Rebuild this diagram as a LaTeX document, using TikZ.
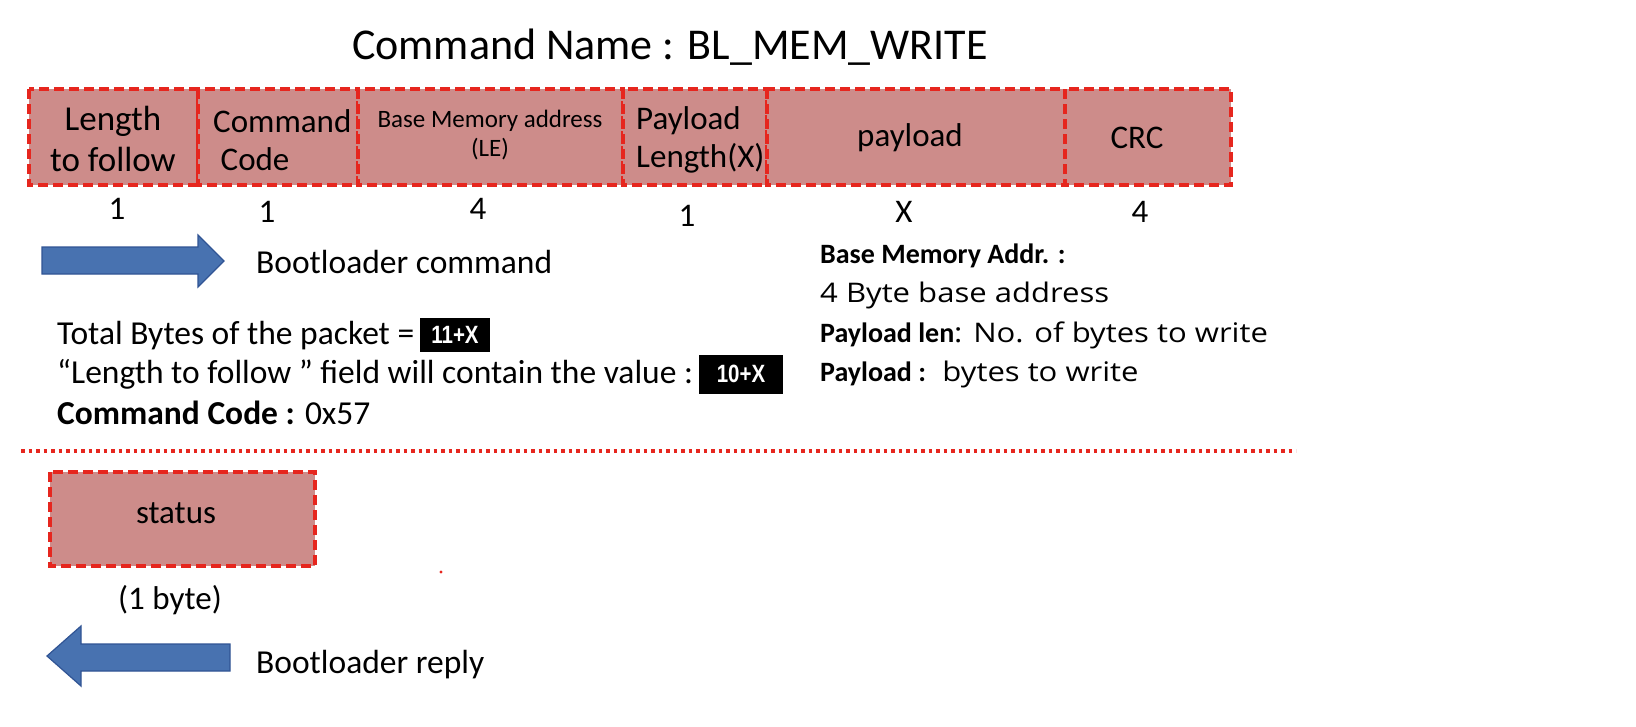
\documentclass[tikz,border=0pt]{standalone}
\usepackage{fontspec}
\setmainfont{Carlito}
\newfontfamily\widefont{Open Sans}[FakeStretch=1.15]
\newfontfamily\narrowbold{Liberation Sans}[FakeStretch=0.82]
\definecolor{fieldfill}{RGB}{205,140,138}
\definecolor{fieldline}{RGB}{230,38,30}
\definecolor{arrowfill}{RGB}{72,114,176}
\definecolor{arrowline}{RGB}{48,84,148}
\newcommand{\fs}[1]{\fontsize{#1}{1.15\dimexpr#1pt\relax}\selectfont}
\tikzset{
  field/.style={draw=fieldline, fill=fieldfill, line width=3.6pt,
    dash pattern=on 10pt off 5pt},
  fieldtext/.style={inner sep=0pt, font=\fs{33}, align=center},
  bodytext/.style={inner sep=0pt, anchor=west, font=\fs{33.5}},
  notetext/.style={inner sep=0pt, anchor=west, font=\fs{28}},
  valuebox/.style={fill=black, text=white, inner sep=0pt,
    font=\narrowbold\bfseries\fs{25}},
  blockarrow/.style={fill=arrowfill, draw=arrowline, line width=1.2pt, line join=miter}
}
\begin{document}
\begin{tikzpicture}[x=1pt,y=-1pt]
\useasboundingbox[fill=white] (0,0) rectangle (1636,726);

% title
\node[inner sep=0pt, font=\fs{44}] (title) at (670,47) {Command Name : BL\_MEM\_WRITE};

% packet fields
\draw[field] (29,89) rectangle (198,185);
\draw[field] (198,89) rectangle (358,185);
\draw[field] (358,89) rectangle (623,185);
\draw[field] (623,89) rectangle (767,185);
\draw[field] (767,89) rectangle (1065,185);
\draw[field] (1065,89) rectangle (1231,185);

\node[fieldtext, font=\fs{35}] (flen) at (113,139) {Length\\to follow};
\node[fieldtext, align=left, anchor=west] (fcmd) at (213,140) {Command\\\ Code};
\node[fieldtext, font=\fs{25}] (fbase) at (490,135) {Base Memory address\\(LE)};
\node[fieldtext, align=left, anchor=west] (fplen) at (636,140) {Payload\\Length(X)};
\node[fieldtext] (fpay) at (910,138) {payload};
\node[fieldtext] (fcrc) at (1137,138) {CRC};

% field sizes
\node[fieldtext] (n1) at (117,209) {1};
\node[fieldtext] (n2) at (267,212) {1};
\node[fieldtext] (n3) at (478,209) {4};
\node[fieldtext] (n4) at (687,216) {1};
\node[fieldtext] (n5) at (904,212) {X};
\node[fieldtext] (n6) at (1140,212) {4};

% direction of the command
\draw[blockarrow] (42,247) -- (198,247) -- (198,235) -- (224,261) -- (198,287)
  -- (198,274) -- (42,274) -- cycle;
\node[bodytext] (cmdlabel) at (256,262) {Bootloader command};

% notes on the packet
\node[bodytext] (tot) at (57,336) {Total Bytes of the packet =};
\node[valuebox, minimum width=70pt, minimum height=34pt] (tot val) at (455,335) {11+X};
\node[bodytext] (ltf) at (57,374) {“Length to follow ” field will contain the value :};
\node[valuebox, minimum width=84pt, minimum height=39pt] (ltf val) at (741,374) {10+X};
\node[bodytext] (code) at (57,413) {\textbf{Command Code :} 0x57};

\node[notetext] (r1) at (820,256) {\textbf{Base Memory Addr. :}};
\node[notetext] (r2) at (820,295) {\widefont\fs{27}4 Byte base address};
\node[notetext] (r3) at (820,335) {\textbf{Payload len}{\widefont\fs{27}: No. of bytes to write}};
\node[notetext] (r4) at (820,374) {\textbf{Payload :} {\widefont\fs{27}\ bytes to write}};

% separator between command and reply
\draw[fieldline, line width=3.6pt, dash pattern=on 3.5pt off 4pt] (21,451) -- (1296,451);

% reply
\draw[field] (50,472) rectangle (315,566);
\node[fieldtext] (status) at (176,513) {status};
\node[fieldtext] (stsize) at (170,600) {(1 byte)};
\fill[fieldline] (441,572) circle (1.6pt);

\draw[blockarrow] (230,644) -- (81,644) -- (81,626) -- (47,656) -- (81,686)
  -- (81,671) -- (230,671) -- cycle;
\node[bodytext] (replabel) at (256,665) {Bootloader reply};
\end{tikzpicture}
\end{document}
